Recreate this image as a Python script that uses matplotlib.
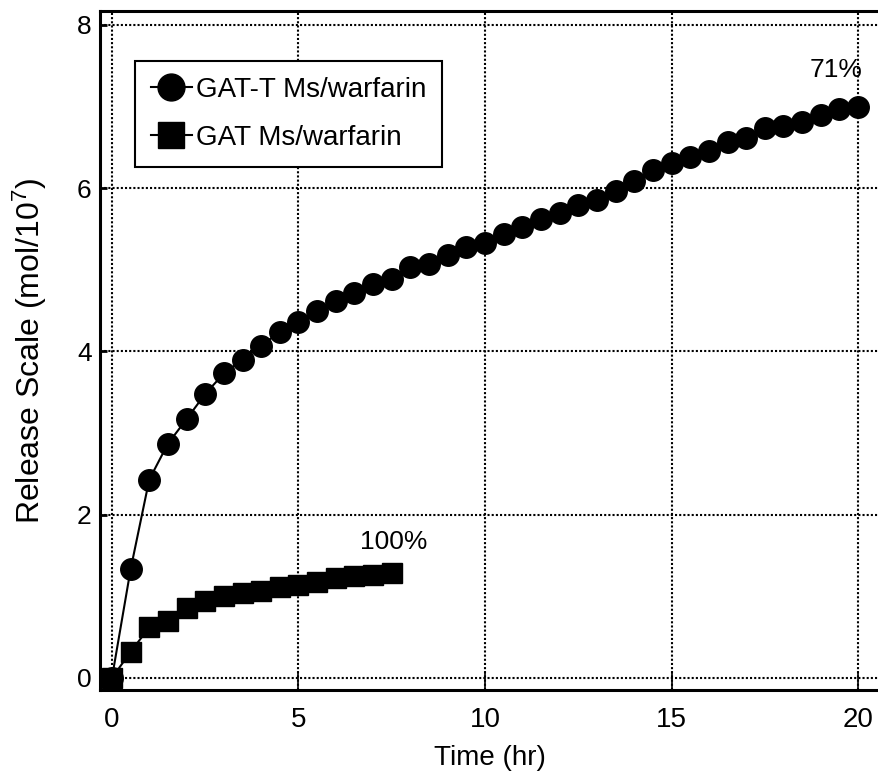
"""Release profile of warfarin from GAT-T and GAT microspheres."""
import matplotlib
matplotlib.use('Agg')

import matplotlib.pyplot as plt

plt.rcParams['font.family'] = ['Liberation Sans', 'DejaVu Sans']
plt.rcParams['mathtext.fontset'] = 'custom'
plt.rcParams['mathtext.rm'] = 'Liberation Sans'
plt.rcParams['mathtext.default'] = 'regular'

# GAT-T Ms/warfarin, sampled every 0.5 hr from 0 to 20 hr
gatt_time = [i * 0.5 for i in range(41)]
gatt_release = [
    0.00, 1.33, 2.43, 2.87, 3.17, 3.48, 3.73, 3.90, 4.07, 4.24, 4.36,
    4.49, 4.62, 4.71, 4.83, 4.89, 5.03, 5.07, 5.18, 5.28, 5.33,
    5.44, 5.52, 5.62, 5.69, 5.79, 5.85, 5.97, 6.09, 6.22, 6.31,
    6.38, 6.46, 6.57, 6.62, 6.74, 6.76, 6.81, 6.89, 6.97, 7.00,
]

# GAT Ms/warfarin, sampled every 0.5 hr from 0 to 7.5 hr
gat_time = [i * 0.5 for i in range(16)]
gat_release = [
    0.00, 0.32, 0.62, 0.70, 0.86, 0.94, 1.00, 1.04,
    1.07, 1.11, 1.14, 1.18, 1.22, 1.25, 1.26, 1.28,
]

xticks = [0, 5, 10, 15, 20]
yticks = [0, 2, 4, 6, 8]

###

fig = plt.figure(figsize=(8.79, 7.78), dpi=100)
ax = fig.add_axes([100 / 879, 88 / 778, 779 / 879, 679 / 778])

ax.plot(
    gatt_time,
    gatt_release,
    color='black',
    lw=1.5,
    marker='o',
    ms=15.5,
    label='GAT-T Ms/warfarin',
    zorder=3,
)

ax.plot(
    gat_time,
    gat_release,
    color='black',
    lw=1.5,
    marker='s',
    ms=14.5,
    label='GAT Ms/warfarin',
    zorder=4,
)

ax.text(19.4, 7.45, '71%', fontsize=19, ha='center', va='center')
ax.text(7.56, 1.67, '100%', fontsize=19, ha='center', va='center')

ax.set_xlim(-0.32, 20.56)
ax.set_ylim(-0.147, 8.17)
ax.set_xticks(xticks)
ax.set_yticks(yticks)

ax.grid(True, color='black', lw=1.5, linestyle=(0, (1, 1)))
ax.set_axisbelow(True)

for side in ['top', 'left', 'bottom']:
    ax.spines[side].set_linewidth(2.2)
ax.spines['right'].set_visible(False)

ax.tick_params(axis='x', direction='in', length=14, width=1.2,
               labelsize=20, pad=12)
ax.tick_params(axis='y', direction='in', length=5, width=2,
               labelsize=19, pad=6)

ax.set_xlabel('Time (hr)', fontsize=20, labelpad=9)
ax.set_ylabel('Release Scale (mol/10$^7$)', fontsize=23, labelpad=20)

leg = ax.legend(
    loc='upper left',
    bbox_to_anchor=(0.045, 0.926),
    borderaxespad=0,
    fontsize=20,
    markerscale=1.25,
    handlelength=1.5,
    handletextpad=0.15,
    borderpad=0.56,
    labelspacing=0.8,
    fancybox=False,
    framealpha=1,
    edgecolor='black',
)
leg.get_frame().set_linewidth(1.5)

fig.savefig('out.png', dpi=100)
plt.close(fig)
